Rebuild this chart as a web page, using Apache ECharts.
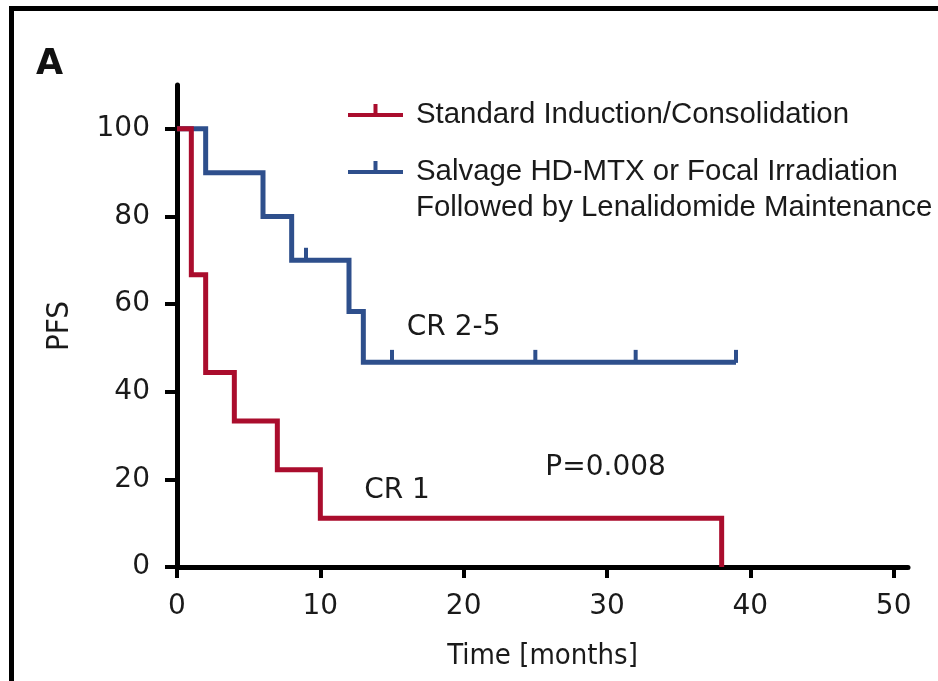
<!DOCTYPE html>
<html>
<head>
<meta charset="utf-8">
<script src="https://cdn.jsdelivr.net/npm/echarts@6/dist/echarts.min.js"></script>
<style>
html,body{margin:0;padding:0;background:#fff;}
#chart{width:938px;height:681px;}
</style>
</head>
<body>
<div id="chart"></div>
<script>
// ---- data ----
const seriesNames = ['Standard Induction/Consolidation', 'Salvage HD-MTX or Focal Irradiation\nFollowed by Lenalidomide Maintenance'];
const timeRed = [0, 1, 2, 4, 7, 10, 38];
const pfsRed = [100, 66.7, 44.4, 33.3, 22.2, 11.1, 0];
const timeBlue = [0, 2, 6, 8, 12, 13, 39];
const pfsBlue = [100, 90, 80, 70, 58.3, 46.7, 46.7];
const censorTimeBlue = [9, 15, 25, 32, 39];
const censorPfsBlue = [70, 46.7, 46.7, 46.7, 46.7];
const xTicks = [0, 10, 20, 30, 40, 50];
const yTicks = [0, 20, 40, 60, 80, 100];
const annotationText = ['CR 2-5', 'CR 1', 'P=0.008'];
const annotationX = [19.3, 15.35, 29.9];
const annotationY = [54.6, 17.4, 22.7];

const RED = '#aa0d2d';
const BLUE = '#2e4f8c';
const TXT = '#1a1a1a';
const tickFont = 'DejaVu Sans, Liberation Sans, sans-serif';
const narrowFont = 'Liberation Sans Narrow, DejaVu Sans Condensed, Roboto Condensed, Liberation Sans, sans-serif';

const zip = (a, b) => a.map((v, i) => [v, b[i]]);

// legend icons: line sample with a censor tick; invisible corner points fix the box
const iconRed = 'path://M0,0L0.01,0L0.01,0.01Z M63,58L63.01,58L63.01,57.99Z M0,27L55,27L55,31L0,31Z M25.5,18L29.5,18L29.5,29L25.5,29Z';
const iconBlue = 'path://M0,0L0.01,0L0.01,0.01Z M63,58L63.01,58L63.01,57.99Z M0,9L55,9L55,13L0,13Z M25.5,0L29.5,0L29.5,11L25.5,11Z';

const chart = echarts.init(document.getElementById('chart'), null, {renderer: 'canvas'});
chart.setOption({
  backgroundColor: '#fff',
  animation: false,
  title: {
    text: 'A', left: 36, top: 47, padding: 0,
    textStyle: {fontSize: 35, fontWeight: 'bold', fontFamily: 'DejaVu Sans, sans-serif', color: '#111'}
  },
  graphic: [{
    type: 'polyline',
    shape: {points: [[11.5, 690], [11.5, 8.5], [945, 8.5]]},
    style: {stroke: '#000', lineWidth: 5, fill: null}
  }],
  legend: {
    orient: 'vertical', left: 348, top: 86, padding: 0, itemGap: 10,
    itemWidth: 63, itemHeight: 58, symbolKeepAspect: false,
    selectedMode: false,
    itemStyle: {borderWidth: 0},
    textStyle: {fontSize: 29.4, fontFamily: 'Liberation Sans, Arial, sans-serif', color: TXT, lineHeight: 36},
    data: [
      {name: seriesNames[0], icon: iconRed},
      {name: seriesNames[1], icon: iconBlue}
    ]
  },
  grid: {left: 177, right: 30, top: 85, bottom: 114, containLabel: false},
  xAxis: {
    type: 'value', min: 0, max: 51,
    name: 'Time [months]', nameLocation: 'middle', nameGap: 75,
    nameTextStyle: {fontSize: 29, fontFamily: narrowFont, color: TXT},
    axisLine: {show: true, lineStyle: {color: '#000', width: 5}},
    axisTick: {show: true, length: 11, lineStyle: {color: '#000', width: 4}, customValues: xTicks},
    axisLabel: {fontSize: 28, fontFamily: tickFont, color: TXT, margin: 26, customValues: xTicks},
    splitLine: {show: false}
  },
  yAxis: {
    type: 'value', min: 0, max: 110,
    name: 'PFS', nameLocation: 'middle', nameGap: 102,
    nameTextStyle: {fontSize: 31, fontFamily: narrowFont, color: TXT},
    axisLine: {show: true, lineStyle: {color: '#000', width: 5}},
    axisTick: {show: true, length: 12, lineStyle: {color: '#000', width: 4}, customValues: yTicks},
    axisLabel: {fontSize: 28, fontFamily: tickFont, color: TXT, margin: 27, customValues: yTicks},
    splitLine: {show: false}
  },
  series: [
    {
      name: seriesNames[1], type: 'line', step: 'end', z: 2,
      data: zip(timeBlue, pfsBlue), symbol: 'none', showSymbol: false,
      itemStyle: {color: BLUE, borderWidth: 0},
      lineStyle: {color: BLUE, width: 5, join: 'miter', cap: 'butt'}
    },
    {
      name: 'censored', type: 'scatter', z: 2,
      data: zip(censorTimeBlue, censorPfsBlue),
      symbol: 'rect', symbolSize: [4, 13], symbolOffset: [0, -6],
      itemStyle: {color: BLUE, opacity: 1}
    },
    {
      name: seriesNames[0], type: 'line', step: 'end', z: 3,
      data: zip(timeRed, pfsRed), symbol: 'none', showSymbol: false,
      itemStyle: {color: RED, borderWidth: 0},
      lineStyle: {color: RED, width: 5, join: 'miter', cap: 'butt'}
    },
    {
      name: 'annotations', type: 'scatter', z: 4,
      data: zip(annotationX, annotationY),
      symbolSize: 1, itemStyle: {color: 'rgba(0,0,0,0)', opacity: 1},
      label: {
        show: true, position: 'inside',
        formatter: p => annotationText[p.dataIndex],
        fontSize: 28, fontFamily: tickFont, color: TXT, opacity: 1
      }
    }
  ]
});
</script>
</body>
</html>
